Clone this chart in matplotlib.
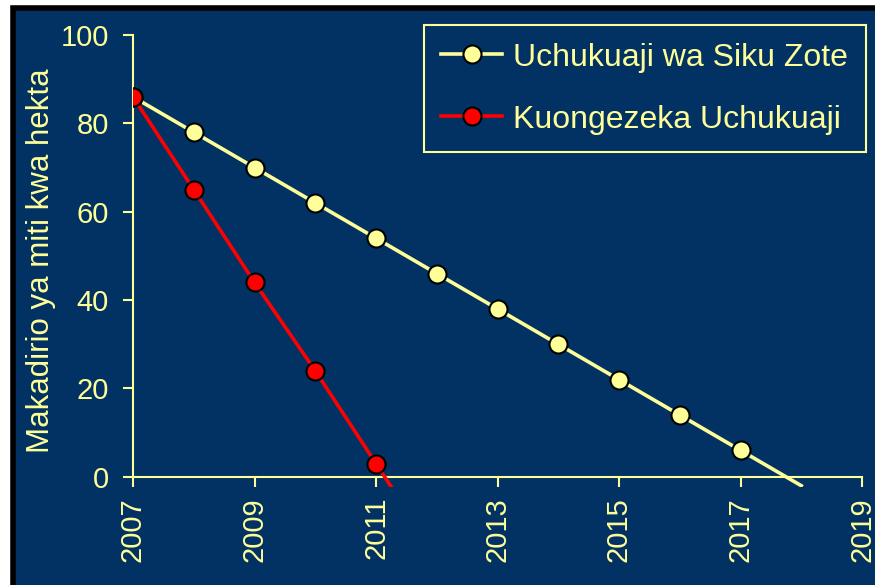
import matplotlib.pyplot as plt
from matplotlib.patches import Rectangle

# Data
years_base = [2007, 2008, 2009, 2010, 2011, 2012, 2013, 2014, 2015, 2016, 2017, 2018]
base_values = [86, 78, 70, 62, 54, 46, 38, 30, 22, 14, 6, -2]
years_fast = [2007, 2008, 2009, 2010, 2011, 2012]
fast_values = [86, 65, 44, 24, 3, -18]
xticks = [2007, 2009, 2011, 2013, 2015, 2017, 2019]
yticks = [0, 20, 40, 60, 80, 100]

navy = '#013263'
pale = '#FFFF99'

plt.rcParams['font.family'] = ['Liberation Sans', 'DejaVu Sans']

fig = plt.figure(figsize=(8.75, 5.85), dpi=100, facecolor='white')
# dark panel with black frame
fig.patches.append(Rectangle((13 / 875, -0.05), 1.0, 1 - 8 / 585 + 0.05,
                             transform=fig.transFigure, facecolor=navy,
                             edgecolor='black', linewidth=4, zorder=-1))

ax = fig.add_axes([133 / 875, 1 - 487 / 585, (862 - 133) / 875, (487 - 35) / 585])
ax.set_facecolor('none')

ax.plot(years_base, base_values, color=pale, linewidth=2.6, marker='o',
        markersize=13, markerfacecolor=pale, markeredgecolor='black',
        markeredgewidth=1.5, markevery=list(range(len(years_base) - 1)),
        label='Uchukuaji wa Siku Zote', zorder=3)
ax.plot(years_fast, fast_values, color='#FF0000', linewidth=2.6, marker='o',
        markersize=13, markerfacecolor='#FF0000', markeredgecolor='black',
        markeredgewidth=1.5, markevery=list(range(len(years_fast) - 1)),
        label='Kuongezeka Uchukuaji', zorder=4)

ax.set_xlim(2007, 2019)
ax.set_ylim(-2.3, 100)
ax.set_xticks(xticks)
ax.set_yticks(yticks)

for side in ['top', 'right']:
    ax.spines[side].set_visible(False)
ax.spines['bottom'].set_position(('data', 0))
ax.spines['left'].set_bounds(0, 100)
for side in ['bottom', 'left']:
    ax.spines[side].set_color(pale)
    ax.spines[side].set_linewidth(1.5)
ax.tick_params(colors=pale, labelsize=21, direction='out', length=7.5, width=1.5)
ax.tick_params(axis='x', pad=7, labelrotation=90)
ax.tick_params(axis='y', pad=10)

ax.set_ylabel('Makadirio ya miti kwa hekta', color=pale, fontsize=22.5, labelpad=3)

leg = ax.legend(loc='upper right', fontsize=23, frameon=True, fancybox=False,
                facecolor=navy, edgecolor=pale, framealpha=1,
                borderpad=0.55, labelspacing=1.0, handlelength=1.9,
                handletextpad=0.35, borderaxespad=0,
                bbox_to_anchor=(1.005, 1.022))
leg.get_frame().set_linewidth(1.5)
for t in leg.get_texts():
    t.set_color(pale)

fig.savefig('out.png', dpi=100, facecolor=fig.get_facecolor())
